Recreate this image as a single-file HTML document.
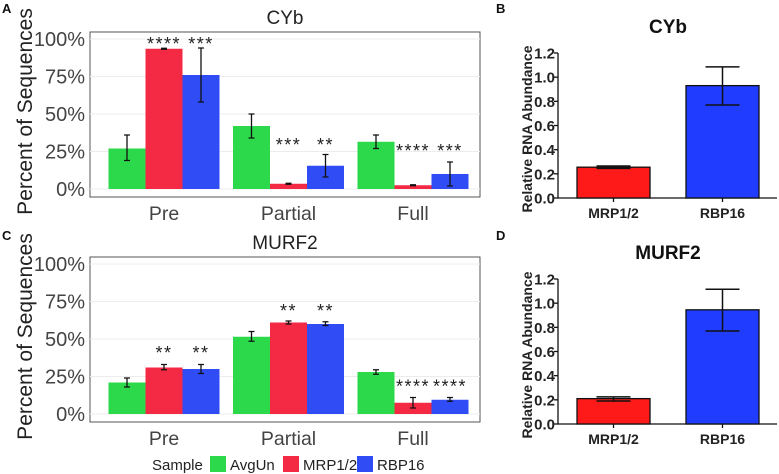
<!DOCTYPE html>
<html><head><meta charset="utf-8"><style>
body{margin:0;background:#fff;width:779px;height:474px;overflow:hidden;font-family:"Liberation Sans",sans-serif}
svg{display:block}
</style></head><body>
<svg id="s" width="779" height="474" xmlns="http://www.w3.org/2000/svg"></svg>
<script>
const categories=["Pre","Partial","Full"];
const samples=["AvgUn","MRP1/2","RBP16"];
const colors=["#2bd94a","#f42a45","#2f4cf5"];
const cybVals=[[27,93.5,76],[42,3.5,15.5],[31.5,2.5,10]];
const cybLo=[[19,93.2,58],[34,3.2,8],[27,2.2,2]];
const cybHi=[[36,93.8,94],[50,3.8,23],[36,2.8,18]];
const cybStars=[["","****","***"],["","***","**"],["","****","***"]];
const cybStarY=[100,32.7,28.7];
const murfVals=[[21,31,30],[51.5,61,60],[28,7.5,9.5]];
const murfLo=[[18,29.5,27],[48.5,60,59],[26.5,4,8.5]];
const murfHi=[[24,33,33],[55,62,61.5],[29.5,11,11]];
const murfStars=[["","**","**"],["","**","**"],["","****","****"]];
const murfStarY=[44,72,21.6];
const pctTicks=[0,25,50,75,100];
const qLabels=["MRP1/2","RBP16"];
const qColors=["#ff1a1a","#1f3cff"];
const cybQ=[0.255,0.93],cybQLo=[0.245,0.77],cybQHi=[0.265,1.085];
const murfQ=[0.21,0.945],murfQLo=[0.19,0.77],murfQHi=[0.225,1.115];
const qTicks=[0,0.2,0.4,0.6,0.8,1.0,1.2];
const S=document.getElementById('s');const NS="http://www.w3.org/2000/svg";
function el(t,a,txt){const e=document.createElementNS(NS,t);for(const k in a)e.setAttribute(k,a[k]);if(txt!==undefined)e.textContent=txt;S.appendChild(e);return e;}
function ggPanel(title,vals,lo,hi,stars,starY,top,name){
 const bTop=top,bBot=top+165,y0=top+157,y100=top+7,L=90,R=480;
 const y=v=>y0+(y100-y0)*v/100;
 const cx=i=>164+i*124.5;const bw=37;
 let r=el('rect',{x:L,y:bTop,width:R-L,height:bBot-bTop,fill:'#fff',stroke:'#555','stroke-width':1});
 
 for(let k=0;k<pctTicks.length;k++){const t=pctTicks[k];
  let g=el('line',{x1:L,x2:R,y1:y(t),y2:y(t),stroke:'#ececec'});
  let tl=el('text',{x:85,y:y(t)+7,'text-anchor':'end','font-size':20,fill:'#444'},t+'%');
 }
 for(let i=0;i<3;i++){
  let cl=el('text',{x:cx(i),y:bBot+23,'text-anchor':'middle','font-size':19.5,fill:'#444'},categories[i]);
  for(let j=0;j<3;j++){
   const x=cx(i)+(j-1.5)*bw;
   let b=el('rect',{x:x,y:y(vals[i][j]),width:bw,height:y0-y(vals[i][j]),fill:colors[j]});
   const m=x+bw/2;
   let eb=el('path',{d:`M${m-3},${y(hi[i][j])}H${m+3}M${m},${y(hi[i][j])}V${y(lo[i][j])}M${m-3},${y(lo[i][j])}H${m+3}`,stroke:'#111','stroke-width':1.3,fill:'none'});
   if(stars[i][j]){let st=el('text',{x:m,y:y(starY[i])+11,'text-anchor':'middle','font-size':18,fill:'#222','letter-spacing':'1.5'},stars[i][j]);
    }
  }
 }
 let tt=el('text',{x:285,y:top-8,'text-anchor':'middle','font-size':19,fill:'#222'},title);
 let yt=el('text',{x:0,y:0,transform:`translate(32,${(bTop+bBot)/2-3}) rotate(-90)`,'text-anchor':'middle','font-size':21,fill:'#222'},'Percent of Sequences');
}
ggPanel('CYb',cybVals,cybLo,cybHi,cybStars,cybStarY,32,'cyb-seq');
ggPanel('MURF2',murfVals,murfLo,murfHi,murfStars,murfStarY,257,'murf2-seq');
function qPanel(title,vals,lo,hi,y0,name){
 const y12=y0-145,y=v=>y0+(y12-y0)*v/1.2,ax=558;
 let a=el('path',{d:`M${ax},${y12}V${y0}H777`,stroke:'#111','stroke-width':1.3,fill:'none'});
 for(const t of qTicks){el('line',{x1:ax-4,x2:ax,y1:y(t),y2:y(t),stroke:'#111','stroke-width':1.3});
  let tl=el('text',{x:555,y:y(t)+5.5,'text-anchor':'end','font-size':15,'font-weight':'bold',fill:'#222'},t.toFixed(1));}
 for(let i=0;i<2;i++){const x=577+i*109,w=73,m=x+w/2;
  let b=el('rect',{x:x,y:y(vals[i]),width:w,height:y0-y(vals[i]),fill:qColors[i],stroke:'#111','stroke-width':1.3});
  let eb=el('path',{d:`M${m-17},${y(hi[i])}H${m+17}M${m},${y(hi[i])}V${y(lo[i])}M${m-17},${y(lo[i])}H${m+17}`,stroke:'#111','stroke-width':1.5,fill:'none'});
  el('line',{x1:m,x2:m,y1:y0,y2:y0+4,stroke:'#111','stroke-width':1.3});
  let xl=el('text',{x:m,y:y0+20,'text-anchor':'middle','font-size':14,'font-weight':'bold',fill:'#222'},qLabels[i]);}
 let tt=el('text',{x:668,y:y12-20,'text-anchor':'middle','font-size':19,'font-weight':'bold',fill:'#111'},title);
 let yt=el('text',{x:0,y:0,transform:`translate(532,${y0-69}) rotate(-90)`,'text-anchor':'middle','font-size':14,'font-weight':'bold',fill:'#222'},'Relative RNA Abundance');
}
qPanel('CYb',cybQ,cybQLo,cybQHi,198,'cyb-rna');
qPanel('MURF2',murfQ,murfQLo,murfQHi,424,'murf2-rna');
const letters=[["A",2,13],["B",496,13],["C",2,240],["D",496,240]];
for(const l of letters){let t=el('text',{x:l[1],y:l[2],'font-size':13,'font-weight':'bold',fill:'#111'},l[0]);}
let lg=el('text',{x:152,y:470,'font-size':15,fill:'#222'},'Sample');
const lx=[210,283,357];
for(let j=0;j<3;j++){let r=el('rect',{x:lx[j],y:456,width:16,height:16,fill:colors[j]});
 let t=el('text',{x:lx[j]+20,y:470,'font-size':15,fill:'#222'},samples[j]);}
</script>
</body></html>
